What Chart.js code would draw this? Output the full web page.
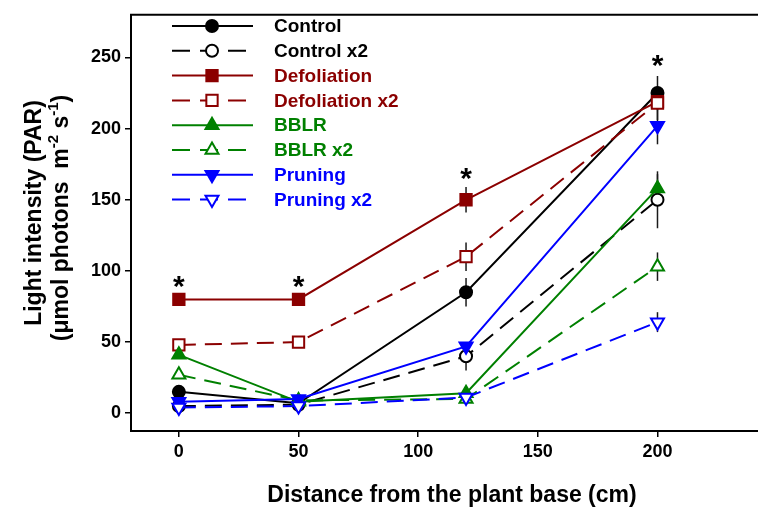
<!DOCTYPE html>
<html>
<head>
<meta charset="utf-8">
<script src="https://cdn.jsdelivr.net/npm/chart.js@4.4.1/dist/chart.umd.min.js"></script>
<style>
  html, body { margin: 0; padding: 0; background: #fff; }
  #wrap { width: 758px; height: 516px; }
</style>
</head>
<body>
<div id="wrap"><canvas id="chart"></canvas></div>
<script>
// Distance from plant base (cm)
const distances = [0, 50, 120, 200];

// Light intensity means
const control      = [15, 7, 85, 225];
const controlX2    = [5, 6, 40, 150];
const defoliation  = [80, 80, 150, 219];
const defoliationX2 = [48, 50, 110, 218];
const bblr         = [41, 8, 14, 158];
const bblrX2       = [27, 9, 10, 103];
const pruning      = [8, 10, 47, 202];
const pruningX2    = [4, 5, 11, 64];

// Error bar half-heights
const controlErr      = [2, 1, 10, 12];
const controlX2Err    = [1, 1, 10, 20];
const defoliationErr  = [2, 1, 9, 5];
const defoliationX2Err = [4, 4, 10, 12];
const bblrErr         = [2, 1, 2, 10];
const bblrX2Err       = [3, 1, 1, 10];
const pruningErr      = [1, 1, 3, 13];
const pruningX2Err    = [1, 1, 1, 7];

// Significance asterisks
const starX = [0, 50, 120, 200];
const starY = [91, 91, 167, 246];

// Axis ticks
const xTicks = [0, 50, 100, 150, 200];
const yTicks = [0, 50, 100, 150, 200, 250];

const BLACK = '#000000';
const RED = '#8b0000';
const GREEN = '#008000';
const BLUE = '#0000ff';
const FONT = '"Liberation Sans", Arial, sans-serif';

function pts(vals) {
    return vals.map((v, i) => ({ x: distances[i], y: v }));
}

function series(idx, label, vals, errs, color, style, filled, dashed, rotation) {
    return {
        label: label,
        data: pts(vals),
        errors: errs,
        order: 10 - idx, // later series sit on top
        borderColor: color,
        backgroundColor: color,
        borderWidth: 2,
        borderDash: dashed ? [17, 9] : [],
        pointStyle: style,
        pointRotation: rotation || 0,
        pointRadius: style === 'rect' ? 8 : (style === 'triangle' ? 7.5 : 6),
        pointBorderWidth: 2,
        pointBorderColor: color,
        pointBackgroundColor: filled ? color : '#ffffff',
        showLine: true,
        tension: 0
    };
}

// vertical error bars, drawn under the markers
const errorBars = {
    id: 'errorBars',
    beforeDatasetsDraw(chart) {
        const ctx = chart.ctx;
        const ys = chart.scales.y, xs = chart.scales.x;
        ctx.save();
        ctx.strokeStyle = '#1a1a1a';
        ctx.lineWidth = 1.5;
        chart.data.datasets.forEach(ds => {
            ds.data.forEach((p, i) => {
                const e = ds.errors[i];
                if (!e) return;
                const px = xs.getPixelForValue(p.x);
                ctx.beginPath();
                ctx.moveTo(px, ys.getPixelForValue(p.y - e));
                ctx.lineTo(px, ys.getPixelForValue(p.y + e));
                ctx.stroke();
            });
        });
        ctx.restore();
    }
};

const extras = {
    id: 'extras',
    afterDraw(chart) {
        const ctx = chart.ctx;
        const area = chart.chartArea;
        const xs = chart.scales.x, ys = chart.scales.y;
        ctx.save();

        // top frame line
        ctx.strokeStyle = BLACK;
        ctx.lineWidth = 2;
        ctx.beginPath();
        ctx.moveTo(area.left - 1, area.top);
        ctx.lineTo(chart.width, area.top);
        ctx.stroke();

        // asterisks
        ctx.fillStyle = BLACK;
        ctx.font = 'bold 30px ' + FONT;
        ctx.textAlign = 'center';
        ctx.textBaseline = 'alphabetic';
        starX.forEach((v, i) => {
            ctx.fillText('*', xs.getPixelForValue(v), ys.getPixelForValue(starY[i]) + 12);
        });

        // legend
        chart.data.datasets.forEach((ds, i) => {
            const y = 26 + i * 24.8;
            ctx.strokeStyle = ds.borderColor;
            ctx.lineWidth = 2;
            ctx.beginPath();
            if (ds.borderDash.length) {
                ctx.setLineDash([18, 10]);
                ctx.moveTo(172, y);
                ctx.lineTo(246, y);
            } else {
                ctx.setLineDash([]);
                ctx.moveTo(172, y);
                ctx.lineTo(253, y);
            }
            ctx.stroke();
            ctx.setLineDash([]);
            ctx.fillStyle = ds.pointBackgroundColor;
            ctx.strokeStyle = ds.pointBorderColor;
            ctx.lineWidth = 2;
            Chart.helpers.drawPoint(ctx, {
                pointStyle: ds.pointStyle,
                radius: ds.pointRadius,
                rotation: ds.pointRotation,
                borderWidth: 2
            }, 212, y);
            ctx.fillStyle = ds.borderColor;
            ctx.font = 'bold 19px ' + FONT;
            ctx.textAlign = 'left';
            ctx.textBaseline = 'middle';
            ctx.fillText(ds.label, 274, y + 1);
        });

        // x axis title
        ctx.fillStyle = BLACK;
        ctx.font = 'bold 23px ' + FONT;
        ctx.textAlign = 'center';
        ctx.textBaseline = 'middle';
        ctx.fillText('Distance from the plant base (cm)', 452, 496);

        // y axis title, two lines with superscripts
        ctx.save();
        ctx.translate(35, 213);
        ctx.rotate(-Math.PI / 2);
        ctx.font = 'bold 23px ' + FONT;
        ctx.fillText('Light intensity (PAR)', 0, 0);
        ctx.restore();

        const parts = [
            ['(\u03bcmol photons  m', false],
            ['-2', true],
            [' s', false],
            ['-1', true],
            [')', false]
        ];
        const big = 'bold 23px ' + FONT, small = 'bold 15px ' + FONT;
        let total = 0;
        parts.forEach(p => { ctx.font = p[1] ? small : big; total += ctx.measureText(p[0]).width; });
        ctx.save();
        ctx.translate(62, 218);
        ctx.rotate(-Math.PI / 2);
        ctx.textAlign = 'left';
        ctx.textBaseline = 'middle';
        let cx = -total / 2;
        parts.forEach(p => {
            ctx.font = p[1] ? small : big;
            ctx.fillText(p[0], cx, p[1] ? -8 : 0);
            cx += ctx.measureText(p[0]).width;
        });
        ctx.restore();

        ctx.restore();
    }
};

const datasets = [
    series(0, 'Control', control, controlErr, BLACK, 'circle', true, false),
    series(1, 'Control x2', controlX2, controlX2Err, BLACK, 'circle', false, true),
    series(2, 'Defoliation', defoliation, defoliationErr, RED, 'rect', true, false),
    series(3, 'Defoliation x2', defoliationX2, defoliationX2Err, RED, 'rect', false, true),
    series(4, 'BBLR', bblr, bblrErr, GREEN, 'triangle', true, false),
    series(5, 'BBLR x2', bblrX2, bblrX2Err, GREEN, 'triangle', false, true),
    series(6, 'Pruning', pruning, pruningErr, BLUE, 'triangle', true, false, 180),
    series(7, 'Pruning x2', pruningX2, pruningX2Err, BLUE, 'triangle', false, true, 180)
];

new Chart(document.getElementById('chart'), {
    type: 'scatter',
    data: { datasets: datasets },
    options: {
        responsive: true,
        maintainAspectRatio: false,
        animation: false,
        layout: { padding: { top: 8, right: 0, left: 0, bottom: 0 }, autoPadding: false },
        plugins: {
            legend: { display: false },
            tooltip: { enabled: false }
        },
        scales: {
            x: {
                type: 'linear',
                min: -20,
                max: 242,
                afterBuildTicks: s => { s.ticks = xTicks.map(v => ({ value: v })); },
                afterFit: s => { s.height = 85; },
                grid: { drawOnChartArea: false, drawTicks: true, tickLength: 6, color: BLACK, lineWidth: 1.5 },
                border: { color: BLACK, width: 2 },
                ticks: { color: BLACK, padding: 4, maxRotation: 0, font: { family: FONT, size: 18, weight: 'bold' } }
            },
            y: {
                min: -12.5,
                max: 280,
                afterBuildTicks: s => { s.ticks = yTicks.map(v => ({ value: v })); },
                afterFit: s => { s.width = 131; },
                grid: { drawOnChartArea: false, drawTicks: true, tickLength: 6, color: BLACK, lineWidth: 1.5 },
                border: { color: BLACK, width: 2 },
                ticks: { color: BLACK, padding: 4, font: { family: FONT, size: 18, weight: 'bold' } }
            }
        }
    },
    plugins: [errorBars, extras]
});
</script>
</body>
</html>
